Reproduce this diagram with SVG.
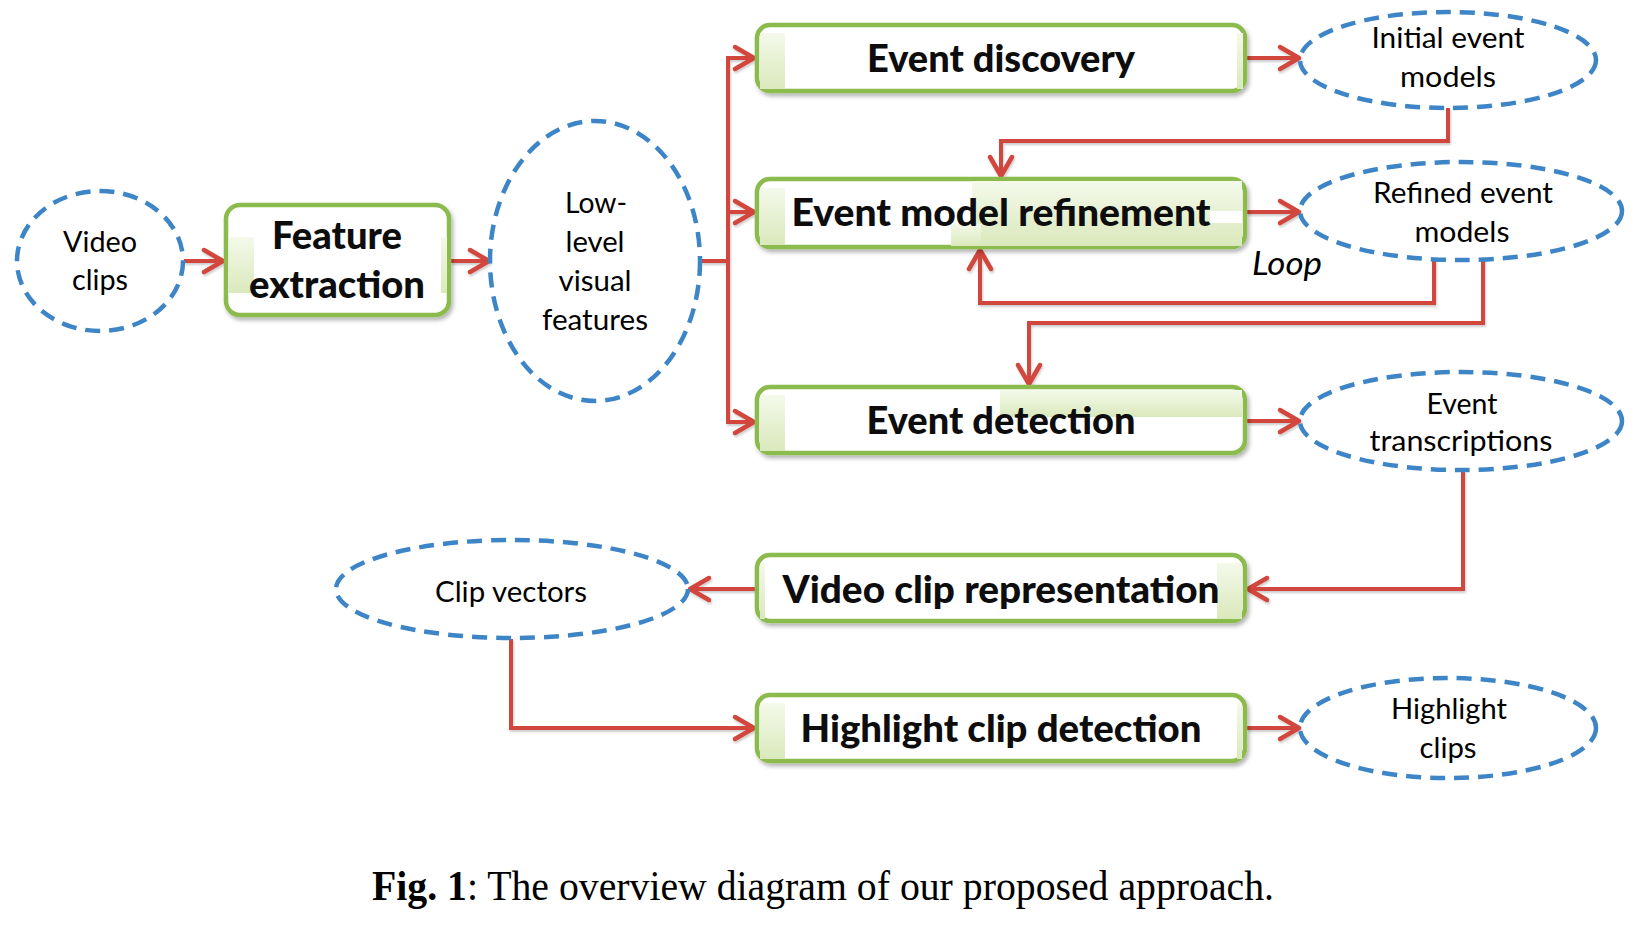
<svg xmlns="http://www.w3.org/2000/svg" width="1636" height="926" viewBox="0 0 1636 926">
<style>
.box{fill:#ffffff;stroke:#8CBB4E;stroke-width:4.5;filter:url(#sh)}
.panel{fill:url(#gg)}
.ell{fill:none;stroke:#3D85C6;stroke-width:4.5;stroke-dasharray:15 9}
.bt{font-family:Lato,"Liberation Sans",sans-serif;font-weight:900;font-size:37px;fill:#0d0d0d;text-anchor:middle}
.et{font-family:Lato,"Liberation Sans",sans-serif;font-size:28.5px;fill:#000;text-anchor:middle}
.con{fill:none;stroke:#D2463C;stroke-width:4;stroke-linejoin:miter}
.arr{marker-end:url(#ah)}
.cap{font-family:"Liberation Serif","Times New Roman",serif;font-size:42px;fill:#000}
</style>
<defs>
<linearGradient id="gg" x1="0" y1="0" x2="0" y2="1">
<stop offset="0" stop-color="#F4F9EA"/>
<stop offset="1" stop-color="#DAE9BC"/>
</linearGradient>
<filter id="sh" x="-10%" y="-20%" width="120%" height="150%">
<feDropShadow dx="2" dy="3" stdDeviation="2" flood-color="#000" flood-opacity="0.3"/>
</filter>
<filter id="lsh" x="-5%" y="-5%" width="110%" height="110%">
<feDropShadow dx="1" dy="2" stdDeviation="1.2" flood-color="#000" flood-opacity="0.2"/>
</filter>
<marker id="ah" markerUnits="userSpaceOnUse" markerWidth="32" markerHeight="32" viewBox="-24 -16 32 32" refX="1" refY="0" orient="auto">
<path d="M-19 -11 L0 0 L-19 11" fill="none" stroke="#D2463C" stroke-width="4.5" stroke-linejoin="round" stroke-linecap="round"/>
</marker>
</defs>
<rect width="1636" height="926" fill="#ffffff"/>

<g id="connectors" filter="url(#lsh)">
<path class="con arr" d="M184 261 H224"/>
<path class="con arr" d="M451 261 H490"/>
<path class="con" d="M701 261 H728"/>
<path class="con" d="M728 58 V422"/>
<path class="con arr" d="M726 58 H755"/>
<path class="con arr" d="M728 212 H755"/>
<path class="con arr" d="M726 422 H755"/>
<path class="con arr" d="M1247 58 H1300"/>
<path class="con arr" d="M1448 108 V141 H1001 V177"/>
<path class="con arr" d="M1247 212 H1300"/>
<path class="con arr" d="M1434 260 V303 H980 V249"/>
<path class="con arr" d="M1483 259 V323 H1029 V385"/>
<path class="con arr" d="M1247 421 H1300"/>
<path class="con arr" d="M1463 470 V589 H1247"/>
<path class="con arr" d="M755 589 H689"/>
<path class="con arr" d="M511 639 V728 H755"/>
<path class="con arr" d="M1247 728 H1300"/>
</g>

<g id="video-clips">
<ellipse class="ell" cx="100" cy="261" rx="83" ry="70"/>
<text class="et" x="100" y="252" textLength="74" lengthAdjust="spacingAndGlyphs">Video</text>
<text class="et" x="100" y="290" textLength="56" lengthAdjust="spacingAndGlyphs">clips</text>
</g>

<g id="feature-extraction">
<rect class="box" x="226" y="205" width="223" height="110" rx="14"/>
<rect class="panel" x="229" y="237" width="25" height="56"/>
<rect class="panel" x="441" y="237" width="6" height="56"/>
<text class="bt" x="337" y="249" textLength="130" lengthAdjust="spacingAndGlyphs">Feature</text>
<text class="bt" x="337" y="298" textLength="176" lengthAdjust="spacingAndGlyphs">extraction</text>
</g>

<g id="low-level-features">
<ellipse class="ell" cx="595" cy="261" rx="105" ry="140"/>
<text class="et" x="596" y="213" textLength="62" lengthAdjust="spacingAndGlyphs">Low-</text>
<text class="et" x="595" y="252" textLength="59" lengthAdjust="spacingAndGlyphs">level</text>
<text class="et" x="595" y="291" textLength="73" lengthAdjust="spacingAndGlyphs">visual</text>
<text class="et" x="595" y="330" textLength="106" lengthAdjust="spacingAndGlyphs">features</text>
</g>

<g id="event-discovery">
<rect class="box" x="757" y="25" width="488" height="66" rx="13"/>
<rect class="panel" x="760" y="33" width="25" height="56"/>
<rect class="panel" x="1237" y="33" width="6" height="56"/>
<text class="bt" x="1001" y="72" textLength="268" lengthAdjust="spacingAndGlyphs">Event discovery</text>
</g>

<g id="initial-event-models">
<ellipse class="ell" cx="1448" cy="60" rx="148" ry="48"/>
<text class="et" x="1448" y="48" textLength="153" lengthAdjust="spacingAndGlyphs">Initial event</text>
<text class="et" x="1448" y="87" textLength="96" lengthAdjust="spacingAndGlyphs">models</text>
</g>

<g id="event-model-refinement">
<rect class="box" x="757" y="179" width="488" height="68" rx="13"/>
<rect class="panel" x="760" y="188" width="25" height="57"/>
<rect class="panel" x="972" y="181" width="270" height="65"/>
<rect class="panel" x="951" y="224" width="30" height="22"/>
<rect x="1210" y="211" width="32" height="12" fill="#ffffff"/>
<text class="bt" x="1001" y="226" textLength="419" lengthAdjust="spacingAndGlyphs">Event model refinement</text>
</g>

<g id="refined-event-models">
<ellipse class="ell" cx="1461" cy="211" rx="161" ry="49"/>
<text class="et" x="1463" y="203" textLength="180" lengthAdjust="spacingAndGlyphs">Refined event</text>
<text class="et" x="1462" y="242" textLength="95" lengthAdjust="spacingAndGlyphs">models</text>
</g>

<g id="loop-label">
<text x="1252" y="275" font-family="Lato,'Liberation Sans',sans-serif" font-style="italic" font-size="32" textLength="70" lengthAdjust="spacingAndGlyphs">Loop</text>
</g>

<g id="event-detection">
<rect class="box" x="757" y="387" width="488" height="66" rx="13"/>
<rect class="panel" x="760" y="395" width="25" height="56"/>
<rect class="panel" x="1000" y="390" width="242" height="27"/>
<text class="bt" x="1001" y="434" textLength="269" lengthAdjust="spacingAndGlyphs">Event detection</text>
</g>

<g id="event-transcriptions">
<ellipse class="ell" cx="1461" cy="421" rx="161" ry="49"/>
<text class="et" x="1462" y="414" textLength="71" lengthAdjust="spacingAndGlyphs">Event</text>
<text class="et" x="1461" y="451" textLength="183" lengthAdjust="spacingAndGlyphs">transcriptions</text>
</g>

<g id="video-clip-representation">
<rect class="box" x="757" y="555" width="488" height="66" rx="13"/>
<rect class="panel" x="760" y="563" width="5" height="56"/>
<rect class="panel" x="1217" y="563" width="25" height="56"/>
<text class="bt" x="1001" y="603" textLength="437" lengthAdjust="spacingAndGlyphs">Video clip representation</text>
</g>

<g id="clip-vectors">
<ellipse class="ell" cx="512" cy="589" rx="176" ry="49"/>
<text class="et" x="511" y="602" textLength="152" lengthAdjust="spacingAndGlyphs">Clip vectors</text>
</g>

<g id="highlight-clip-detection">
<rect class="box" x="757" y="695" width="488" height="66" rx="13"/>
<rect class="panel" x="760" y="703" width="25" height="56"/>
<rect class="panel" x="1237" y="703" width="5" height="56"/>
<text class="bt" x="1001" y="742" textLength="401" lengthAdjust="spacingAndGlyphs">Highlight clip detection</text>
</g>

<g id="highlight-clips">
<ellipse class="ell" cx="1448" cy="728" rx="148" ry="50"/>
<text class="et" x="1449" y="719" textLength="116" lengthAdjust="spacingAndGlyphs">Highlight</text>
<text class="et" x="1448" y="758" textLength="57" lengthAdjust="spacingAndGlyphs">clips</text>
</g>

<g id="caption">
<text class="cap" x="372" y="900" textLength="902" lengthAdjust="spacingAndGlyphs"><tspan font-weight="bold">Fig. 1</tspan>: The overview diagram of our proposed approach.</text>
</g>
</svg>
